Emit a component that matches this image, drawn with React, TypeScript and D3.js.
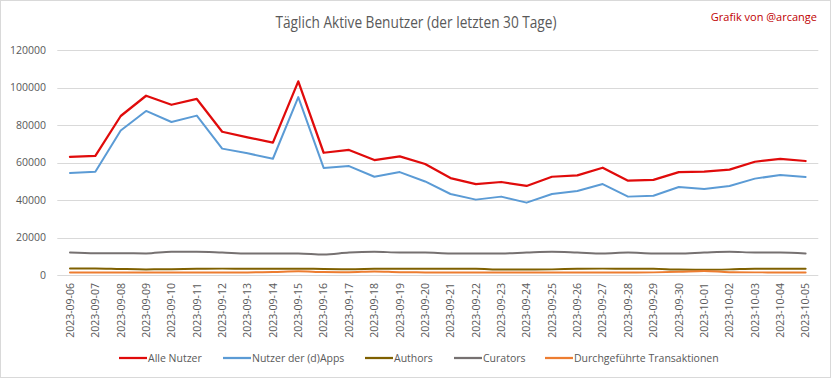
import React from "react";
import * as d3 from "d3";

const dates = [
  "2023-09-06","2023-09-07","2023-09-08","2023-09-09","2023-09-10","2023-09-11","2023-09-12","2023-09-13","2023-09-14","2023-09-15",
  "2023-09-16","2023-09-17","2023-09-18","2023-09-19","2023-09-20","2023-09-21","2023-09-22","2023-09-23","2023-09-24","2023-09-25",
  "2023-09-26","2023-09-27","2023-09-28","2023-09-29","2023-09-30","2023-10-01","2023-10-02","2023-10-03","2023-10-04","2023-10-05",
];

const alleNutzer = [63000,63500,84800,95600,90800,93900,76400,73400,70600,103300,65200,66700,61300,63300,59200,51700,48500,49600,47500,52400,53100,57200,50300,50700,54900,55100,56200,60400,61900,60800];
const dAppsNutzer = [54400,55100,77100,87500,81600,85000,67400,64900,62000,94900,57100,58100,52400,54900,49900,43200,40200,41800,38600,43200,44800,48500,41800,42300,46900,45900,47500,51400,53300,52300];
const authors = [3500,3500,3200,3000,3100,3300,3400,3400,3400,3400,3200,3100,3300,3400,3400,3300,3300,2900,2900,3000,3300,3400,3400,3300,2900,2800,3000,3400,3400,3400];
const curators = [12000,11600,11600,11500,12400,12400,12000,11500,11500,11500,10900,12000,12400,12000,12000,11500,11500,11500,12000,12400,12000,11500,12000,11500,11500,12000,12400,12000,12000,11500];
const transaktionen = [1400,1400,1400,1400,1400,1400,1400,1400,1600,2000,1600,1500,1900,1500,1400,1400,1300,1300,1300,1300,1300,1300,1300,1400,1700,2200,1500,1400,1400,1400];

const yTicks = [0, 20000, 40000, 60000, 80000, 100000, 120000];

const seriesNames = ["Alle Nutzer", "Nutzer der (d)Apps", "Authors", "Curators", "Durchgeführte Transaktionen"];
const seriesColors = ["#e00b0b", "#5b9bd5", "#7f6000", "#767171", "#ed7d31"];
const seriesValues = [alleNutzer, dAppsNutzer, authors, curators, transaktionen];

const W = 833, H = 379;
const font = "'Open Sans', sans-serif";

export default function App() {
  const x = d3.scaleBand<string>().domain(dates).range([57.3, 818.3]);
  const y = d3.scaleLinear().domain([0, 120000]).range([275, 50]);
  const cx = (d: string) => (x(d) as number) + x.bandwidth() / 2;

  const lineLinear = d3.line<number>().x((_, i) => cx(dates[i])).y((v) => y(v));
  const lineSmooth = d3.line<number>().x((_, i) => cx(dates[i])).y((v) => y(v)).curve(d3.curveMonotoneX);

  const legendX = [119, 223, 365, 454, 545];
  const legendY = 358;

  return (
    <div style={{ position: "fixed", left: 0, top: 0 }}>
      <svg width={W} height={H} style={{ display: "block", background: "#fff" }}>
        <rect x={0.5} y={0.5} width={W - 3} height={H - 2} fill="#fff" stroke="#d9d9d9" />
        <text x={416} y={28} textAnchor="middle" fontFamily={font} fontSize={16} fill="#595959" textLength={281} lengthAdjust="spacingAndGlyphs">
          Täglich Aktive Benutzer (der letzten 30 Tage)
        </text>
        <text x={817} y={21} textAnchor="end" fontFamily={font} fontSize={11} fill="#c00000">
          Grafik von @arcange
        </text>
        {yTicks.map((t) => (
          <g key={t}>
            <line x1={57.3} x2={818.3} y1={Math.round(y(t)) + 0.5} y2={Math.round(y(t)) + 0.5} stroke="#d9d9d9" strokeWidth={1} />
            <text x={46} y={y(t) + 3.8} textAnchor="end" fontFamily={font} fontSize={10.5} fill="#595959">
              {t}
            </text>
          </g>
        ))}
        {dates.map((d) => (
          <text
            key={d}
            transform={`translate(${cx(d) + 3.8},${283}) rotate(-90)`}
            textAnchor="end"
            fontFamily={font}
            fontSize={10.5}
            fill="#595959"
          >
            {d}
          </text>
        ))}
        {seriesValues.map((vals, i) => (
          <path
            key={seriesNames[i]}
            d={(i < 2 ? lineLinear : lineSmooth)(vals) || ""}
            fill="none"
            stroke={seriesColors[i]}
            strokeWidth={i === 0 ? 2.25 : 2}
            strokeLinejoin="round"
            strokeLinecap="round"
          />
        ))}
        {seriesNames.map((n, i) => (
          <g key={n}>
            <line x1={legendX[i]} x2={legendX[i] + 28} y1={legendY} y2={legendY} stroke={seriesColors[i]} strokeWidth={2.25} />
            <text x={legendX[i] + 29} y={legendY + 3.8} fontFamily={font} fontSize={10.5} fill="#595959">
              {n}
            </text>
          </g>
        ))}
      </svg>
    </div>
  );
}
